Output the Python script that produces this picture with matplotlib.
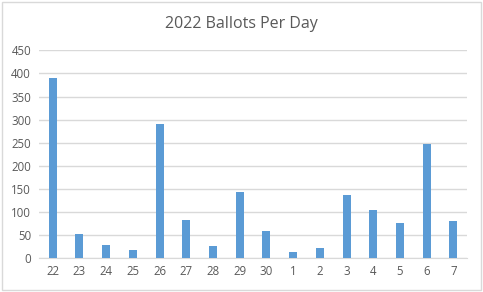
import matplotlib
matplotlib.use("Agg")
import matplotlib.pyplot as plt
from matplotlib.patches import Rectangle

# Ballots per day (dates 22-30, then 1-7)
days = ["22", "23", "24", "25", "26", "27", "28", "29", "30",
        "1", "2", "3", "4", "5", "6", "7"]
ballots = [390, 52, 29, 18, 290, 83, 26, 143, 59, 13, 22, 137, 104, 76, 247, 81]
y_ticks = [0, 50, 100, 150, 200, 250, 300, 350, 400, 450]

text_color = "#595959"
bar_color = "#5B9BD5"
grid_color = "#D9D9D9"

plt.rcParams["font.family"] = ["Open Sans", "DejaVu Sans"]

fig = plt.figure(figsize=(4.83, 2.92), dpi=100)
ax = fig.add_axes([0.0814, 0.1154, 0.8849, 0.7123])

x = range(len(days))
ax.bar(x, ballots, width=0.3, color=bar_color, zorder=3)

ax.set_xlim(-0.5, len(days) - 0.5)
ax.set_ylim(0, 450)
ax.set_yticks(y_ticks)
ax.set_xticks(list(x))
ax.set_xticklabels(days)

ax.grid(axis="y", color=grid_color, linewidth=1, zorder=0)
for side in ["top", "right", "left"]:
    ax.spines[side].set_visible(False)
ax.spines["bottom"].set_color(grid_color)
ax.tick_params(axis="both", length=0, labelsize=8.3, colors=text_color)
ax.tick_params(axis="x", pad=5)
ax.tick_params(axis="y", pad=6)

fig.text(0.5, 0.918, "2022 Ballots Per Day", ha="center", va="center",
         fontsize=11.5, color=text_color)

# light chart-area border like the spreadsheet chart frame
fig.patches.append(Rectangle((0.004, 0.006), 0.992, 0.988, transform=fig.transFigure,
                             fill=False, edgecolor="#D9D9D9", linewidth=1))

fig.savefig("out.png", dpi=100)
